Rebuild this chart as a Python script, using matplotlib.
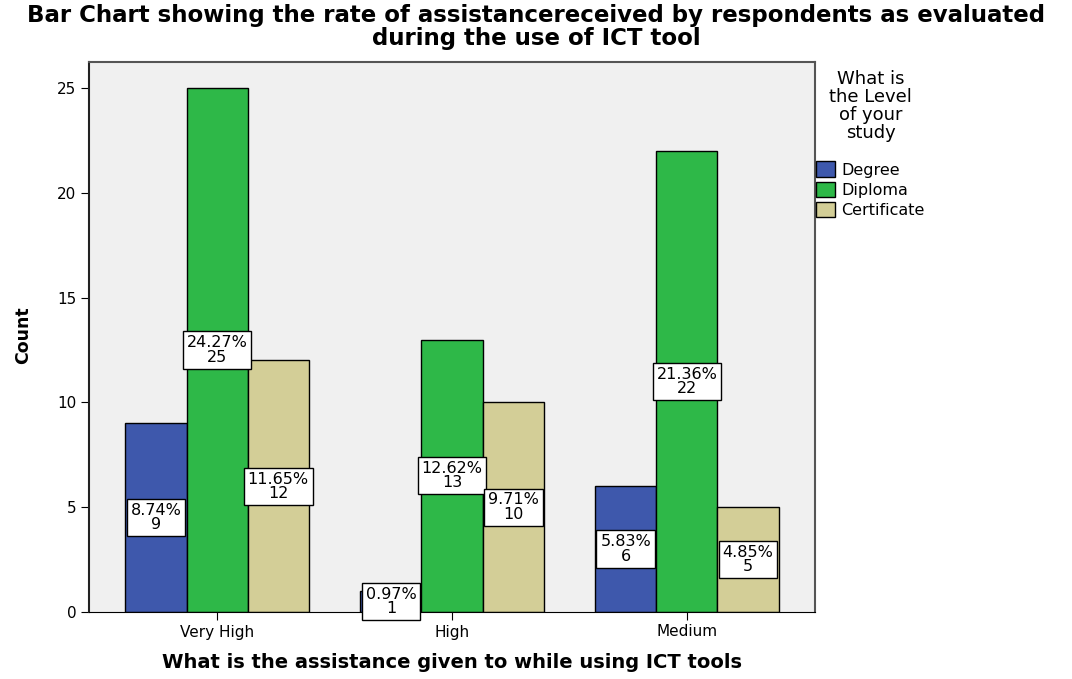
import numpy as np
import matplotlib.pyplot as plt

plt.rcParams['font.family'] = ['DejaVu Sans']

# Counts of respondents by level of assistance and level of study
categories = ['Very High', 'High', 'Medium']
levels = ['Degree', 'Diploma', 'Certificate']
degree = [9, 1, 6]
diploma = [25, 13, 22]
certificate = [12, 10, 5]
colors = ['#3E58AC', '#2EB848', '#D3CE97']

series = [degree, diploma, certificate]
total = sum(sum(s) for s in series)

W, H = 1072, 679
fig = plt.figure(figsize=(W / 100, H / 100), dpi=100)
ax = fig.add_axes([89 / W, 1 - 612 / H, 726 / W, 550 / H])
ax.set_facecolor('#F0F0F0')

x = np.arange(len(categories))
width = 0.26
for i, (name, vals, col) in enumerate(zip(levels, series, colors)):
    pos = x + (i - 1) * width
    ax.bar(pos, vals, width, color=col, edgecolor='black', linewidth=1.0,
           label=name, zorder=2)
    # percentage of all respondents and count, centred on each bar
    for px, v in zip(pos, vals):
        ax.text(px, v / 2, f'{v / total * 100:.2f}%\n{v}', ha='center',
                va='center', fontsize=11.5, linespacing=0.95, zorder=3,
                bbox=dict(boxstyle='square,pad=0.25', facecolor='white',
                          edgecolor='black', linewidth=1.0))

ax.set_xlim(-0.545, 2.545)
ax.set_ylim(0, 26.24)
ax.set_xticks(x)
ax.set_xticklabels(categories, fontsize=11)
ax.set_yticks([0, 5, 10, 15, 20, 25])
ax.tick_params(axis='both', labelsize=11, length=6, color='black', pad=3)

for side in ['top', 'right']:
    ax.spines[side].set_color('#555555')
    ax.spines[side].set_linewidth(1.5)
ax.spines['left'].set_color('#222222')
ax.spines['left'].set_linewidth(1.5)
ax.spines['bottom'].set_color('black')

fig.text(23 / W, 1 - 335 / H, 'Count', rotation=90, ha='center', va='center',
         fontsize=12.5, fontweight='bold')

fig.text(452 / W, 1 - 662 / H,
         'What is the assistance given to while using ICT tools',
         ha='center', va='center', fontsize=14, fontweight='bold')

fig.text(536 / W, 1 - 27 / H,
         'Bar Chart showing the rate of assistancereceived by respondents as evaluated\n'
         'during the use of ICT tool', ha='center', va='center', fontsize=16.5,
         fontweight='bold', linespacing=0.95)

leg = ax.legend(title='What is\nthe Level\nof your\nstudy', loc='upper left',
                bbox_to_anchor=(816 / W, 1 - 70 / H),
                bbox_transform=fig.transFigure, frameon=False, fontsize=11.5,
                title_fontsize=13, handlelength=1.2, handleheight=1.1,
                handletextpad=0.4, labelspacing=0.25, borderpad=0.0,
                borderaxespad=0.0)
leg.get_title().set_multialignment('center')
leg.get_title().set_linespacing(1.0)
leg._legend_box.sep = 14

fig.savefig('out.png', dpi=100)
